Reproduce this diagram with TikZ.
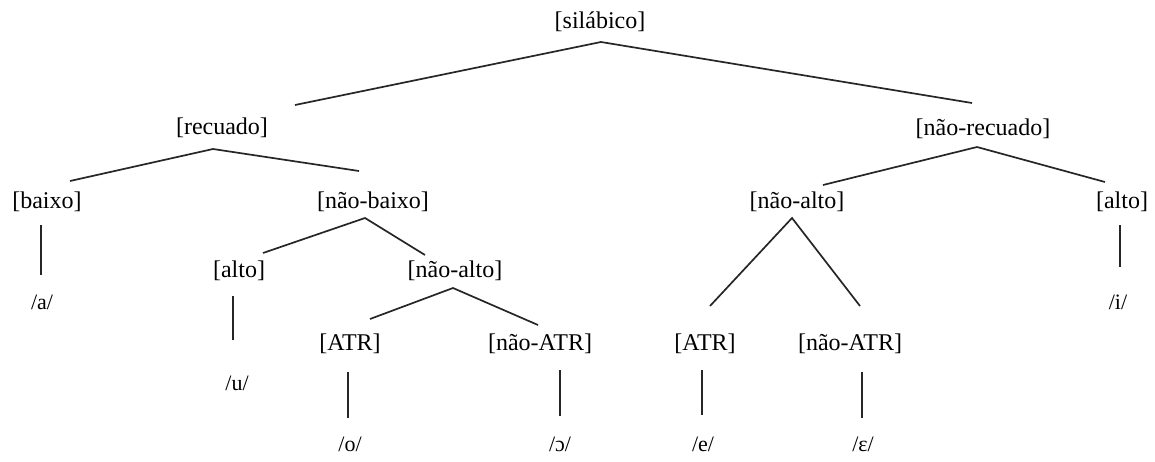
\documentclass[tikz,border=0pt]{standalone}
\usepackage{fontspec}
\setmainfont{Liberation Serif}
\begin{document}
\begin{tikzpicture}[x=1pt,y=-1pt,
  feat/.style={inner sep=0pt,font=\fontsize{24}{28}\selectfont},
  seg/.style={inner sep=0pt,font=\fontsize{22}{26}\selectfont},
  branch/.style={draw=black!85,line width=1.7pt}]
\useasboundingbox (0,0) rectangle (1155,461);

% feature nodes
\node[feat] (silabico)   at (600,22)  {[silábico]};
\node[feat] (recuado)    at (222,128) {[recuado]};
\node[feat] (naorecuado) at (983,129) {[não-recuado]};
\node[feat] (baixo)      at (47,202)  {[baixo]};
\node[feat] (naobaixo)   at (373,202) {[não-baixo]};
\node[feat] (naoaltoR)   at (797,202) {[não-alto]};
\node[feat] (altoR)      at (1122,202){[alto]};
\node[feat] (altoL)      at (239,271) {[alto]};
\node[feat] (naoaltoL)   at (455,271) {[não-alto]};
\node[feat] (atrL)       at (350,344) {[ATR]};
\node[feat] (naoatrL)    at (540,344) {[não-ATR]};
\node[feat] (atrR)       at (705,344) {[ATR]};
\node[feat] (naoatrR)    at (850,344) {[não-ATR]};

% segments
\node[seg] (sa) at (42,302)   {/a/};
\node[seg] (su) at (237,383)  {/u/};
\node[seg] (so) at (350,444)  {/o/};
\node[seg] (soo) at (560,444) {/ɔ/};
\node[seg] (se) at (703,444)  {/e/};
\node[seg] (see) at (863,444) {/ɛ/};
\node[seg] (si) at (1118,302) {/i/};

% branch points
\coordinate (silabico-d)   at (601,42);
\coordinate (recuado-u)    at (295,105);
\coordinate (naorecuado-u) at (972,103);
\coordinate (recuado-d)    at (213,149);
\coordinate (baixo-u)      at (70,181);
\coordinate (naobaixo-u)   at (359,171);
\coordinate (naorecuado-d) at (977,147);
\coordinate (naoaltoR-u)   at (823,185);
\coordinate (altoR-u)      at (1105,182);
\coordinate (naobaixo-d)   at (365,218);
\coordinate (altoL-u)      at (263,253);
\coordinate (naoaltoL-u)   at (425,255);
\coordinate (naoaltoL-d)   at (453,288);
\coordinate (atrL-u)       at (370,319);
\coordinate (naoatrL-u)    at (538,325);
\coordinate (naoaltoR-d)   at (792,218);
\coordinate (atrR-u)       at (710,306);
\coordinate (naoatrR-u)    at (860,306);

\draw[branch] (recuado-u) -- (silabico-d) -- (naorecuado-u);
\draw[branch] (baixo-u) -- (recuado-d) -- (naobaixo-u);
\draw[branch] (naoaltoR-u) -- (naorecuado-d) -- (altoR-u);
\draw[branch] (altoL-u) -- (naobaixo-d) -- (naoaltoL-u);
\draw[branch] (atrL-u) -- (naoaltoL-d) -- (naoatrL-u);
\draw[branch] (atrR-u) -- (naoaltoR-d) -- (naoatrR-u);

% stems down to the segments
\draw[branch] (41,225) -- (41,275);
\draw[branch] (233,296) -- (233,340);
\draw[branch] (1120,225) -- (1120,267);
\draw[branch] (348,372) -- (348,418);
\draw[branch] (560,370) -- (560,416);
\draw[branch] (702,370) -- (702,415);
\draw[branch] (862,372) -- (862,418);
\end{tikzpicture}
\end{document}
